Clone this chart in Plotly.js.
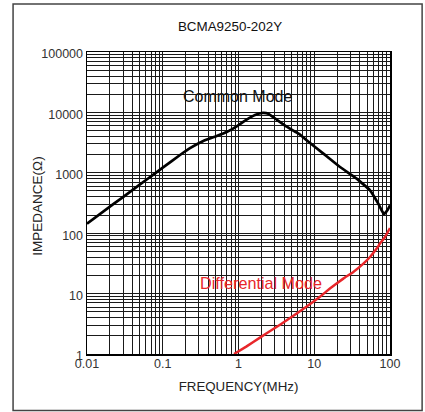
<!DOCTYPE html>
<html>
<head>
<meta charset="utf-8">
<script src="https://cdn.plot.ly/plotly-3.0.1.min.js"></script>
<style>html,body{margin:0;padding:0;background:#fff}#chart{width:425px;height:412px}</style>
</head>
<body>
<div id="chart"></div>
<script>
// Common mode impedance curve (frequency MHz, impedance ohm)
const cmFreq = [0.01, 0.0222, 0.037, 0.0614, 0.1, 0.169, 0.229, 0.343, 0.515, 0.698, 0.946, 1.28, 1.65, 2.1, 2.48, 3.19, 4.33, 6.49, 7.94, 13.2, 21.9, 36.3, 54.5, 70, 83.2, 92.3, 100];
const cmImp  = [144, 302, 484, 775, 1216, 1973, 2560, 3362, 4066, 4733, 5888, 7600, 9060, 9800, 9500, 7600, 5800, 4290, 3450, 2080, 1247, 802, 513, 309, 206, 239, 290];
// Differential mode impedance curve
const dmFreq = [0.873, 1.28, 1.92, 2.88, 4.33, 7.94, 11.9, 16.1, 24.2, 32.8, 44.5, 54.5, 66.7, 73.8, 85.9, 100];
const dmImp  = [1, 1.34, 1.87, 2.59, 3.61, 6.1, 8.9, 12.1, 17.7, 22.8, 31.4, 40.4, 55.6, 67.3, 86.5, 122];

const xMajor = [0.01, 0.1, 1, 10, 100];
const xMajorLabels = ['0.01', '0.1', '1', '10', '100'];
const yMajor = [1, 10, 100, 1000, 10000, 100000];
const yMajorLabels = ['1', '10', '100', '1000', '10000', '100000'];

const titleText = 'BCMA9250-202Y';
const xTitle = 'FREQUENCY(MHz)';
const yTitle = 'IMPEDANCE(Ω)';
const cmLabel = 'Common Mode';
const dmLabel = 'Differential Mode';

// build full log grid (1..9 per decade) with labels only on decades
function logGrid(major, labels) {
  const vals = [], txt = [];
  for (let i = 0; i < major.length; i++) {
    vals.push(major[i]); txt.push(labels[i]);
    if (i < major.length - 1) {
      for (let k = 2; k <= 9; k++) { vals.push(major[i] * k); txt.push(''); }
    }
  }
  return {vals, txt};
}
const xg = logGrid(xMajor, xMajorLabels);
const yg = logGrid(yMajor, yMajorLabels);

const font = 'Arial, "Liberation Sans", sans-serif';

const traces = [
  {x: cmFreq, y: cmImp, mode: 'lines', line: {color: '#000', width: 2.7, shape: 'spline', smoothing: 0.3}, hoverinfo: 'skip'},
  {x: dmFreq, y: dmImp, mode: 'lines', line: {color: '#e8262a', width: 2.5, shape: 'spline', smoothing: 0.3}, hoverinfo: 'skip'}
];

const layout = {
  width: 425, height: 412,
  margin: {l: 87, r: 35, t: 52, b: 58},
  paper_bgcolor: '#fff', plot_bgcolor: '#fff',
  showlegend: false,
  font: {family: font, color: '#222'},
  title: {text: titleText, font: {size: 13.4, color: '#111', family: font}, xref: 'paper', x: 0.472, xanchor: 'center', yref: 'container', y: 1 - 26.7/412, yanchor: 'middle'},
  xaxis: {
    type: 'log', range: [-2, 2], tickmode: 'array', tickvals: xg.vals, ticktext: xg.txt,
    showgrid: true, gridcolor: '#1a1a1a', gridwidth: 1, ticks: '', zeroline: false,
    showline: true, linecolor: '#000', linewidth: 1.5, mirror: true,
    ticklabelstandoff: -3,
    tickfont: {size: 12.5, color: '#333', family: font},
    title: {text: xTitle, font: {size: 13.3, color: '#222', family: font}, standoff: 12}
  },
  yaxis: {
    type: 'log', range: [0, 5], tickmode: 'array', tickvals: yg.vals, ticktext: yg.txt,
    showgrid: true, gridcolor: '#1a1a1a', gridwidth: 1, ticks: '', zeroline: false,
    showline: true, linecolor: '#000', linewidth: 1.5, mirror: true,
    ticklabelshift: 2,
    tickfont: {size: 12.5, color: '#333', family: font},
    title: {text: ''}
  },
  annotations: [
    {text: yTitle, xref: 'paper', yref: 'paper', x: -0.166, y: 0.49, textangle: -90, xanchor: 'center', yanchor: 'middle', showarrow: false, font: {size: 13.5, color: '#222', family: font}},
    {text: cmLabel, xref: 'paper', yref: 'paper', x: 0.497, y: 0.851, xanchor: 'center', yanchor: 'middle', showarrow: false, font: {size: 16, color: '#111', family: font}},
    {text: dmLabel, xref: 'paper', yref: 'paper', x: 0.574, y: 0.236, xanchor: 'center', yanchor: 'middle', showarrow: false, font: {size: 16.2, color: '#e8262a', family: font}}
  ],
  shapes: [
    {type: 'rect', xref: 'paper', yref: 'paper', x0: -0.244, x1: 1.106, y0: -0.187, y1: 1.159, line: {color: '#444', width: 1.5}, fillcolor: 'rgba(0,0,0,0)', layer: 'below'}
  ]
};

Plotly.newPlot('chart', traces, layout, {staticPlot: true, displayModeBar: false});
</script>
</body>
</html>
